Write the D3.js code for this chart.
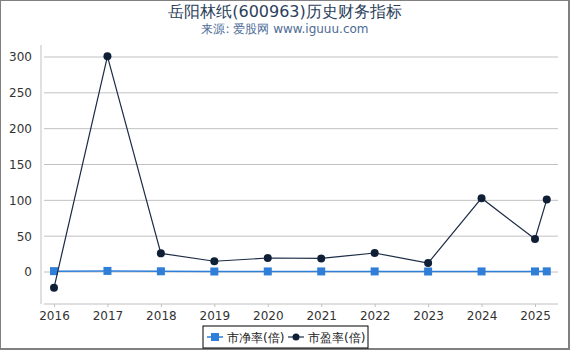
<!DOCTYPE html>
<html>
<head>
<meta charset="utf-8">
<script src="https://d3js.org/d3.v7.min.js"></script>
<style>
  body { margin: 0; background: #fff; }
  text { font-family: "DejaVu Sans", sans-serif; }
</style>
</head>
<body>
<script>
// point positions in years (last point is a partial year)
const dates = [2016, 2017, 2018, 2019, 2020, 2021, 2022, 2023, 2024, 2025, 2025.22];
const pb = [1.2, 1.5, 1.0, 0.7, 0.8, 0.8, 0.8, 0.7, 0.8, 0.8, 0.9];
const pe = [-22, 301, 26, 15, 19.5, 19, 26.5, 12.5, 103, 46, 101];
const yearTicks = [2016, 2017, 2018, 2019, 2020, 2021, 2022, 2023, 2024, 2025];
const yTicks = [0, 50, 100, 150, 200, 250, 300];
const seriesNames = ['市净率(倍)', '市盈率(倍)'];

const width = 570, height = 350;
const plot = { left: 44, right: 558, top: 45, bottom: 304 };

const svg = d3.select('body').append('svg')
  .attr('width', width)
  .attr('height', height);

svg.append('rect')
  .attr('x', 0).attr('y', 0)
  .attr('width', 569).attr('height', 349)
  .attr('fill', '#fff')
  .attr('stroke', '#808080')
  .attr('stroke-width', 2);

const x = d3.scaleLinear().domain([2016, 2025]).range([54, 535]);
const y = d3.scaleLinear().domain([0, 300]).range([272, 57]);

// title
svg.append('text')
  .attr('x', 285).attr('y', 17)
  .attr('text-anchor', 'middle')
  .attr('font-size', 16)
  .attr('fill', '#2b3f5c')
  .text('岳阳林纸(600963)历史财务指标');
svg.append('text')
  .attr('x', 285).attr('y', 33)
  .attr('text-anchor', 'middle')
  .attr('font-size', 12)
  .attr('fill', '#4d6b95')
  .text('来源: 爱股网 www.iguuu.com');

// grid
svg.append('g').selectAll('line')
  .data(yTicks)
  .enter().append('line')
    .attr('x1', plot.left).attr('x2', plot.right)
    .attr('y1', d => y(d)).attr('y2', d => y(d))
    .attr('stroke', '#c0c0c0')
    .attr('stroke-width', 1);

// y axis
const yAxis = svg.append('g')
  .attr('transform', `translate(${plot.left - 3},0)`)
  .call(d3.axisLeft(y).tickValues(yTicks).tickSize(0).tickPadding(9));
yAxis.select('.domain').remove();
yAxis.append('line')
  .attr('x1', 0).attr('x2', 0)
  .attr('y1', plot.top).attr('y2', plot.bottom)
  .attr('stroke', '#c0c0c0');
yAxis.selectAll('text')
  .attr('font-size', 12)
  .attr('fill', '#333')
  .attr('font-family', '"DejaVu Sans", sans-serif');

// x axis
const xAxis = svg.append('g')
  .attr('transform', `translate(0,${plot.bottom})`)
  .call(d3.axisBottom(x).tickValues(yearTicks).tickFormat(d3.format('d')).tickSize(3).tickPadding(4));
xAxis.select('.domain').remove();
xAxis.append('line')
  .attr('x1', plot.left).attr('x2', plot.right)
  .attr('y1', 0).attr('y2', 0)
  .attr('stroke', '#c0c0c0');
xAxis.selectAll('.tick line').attr('stroke', '#c0c0c0');
xAxis.selectAll('text')
  .attr('font-size', 12)
  .attr('fill', '#333')
  .attr('font-family', '"DejaVu Sans", sans-serif');

const line = d3.line().x(d => x(d[0])).y(d => y(d[1]));

// PB series
const pbData = dates.map((d, i) => [d, pb[i]]);
svg.append('path')
  .datum(pbData)
  .attr('d', line)
  .attr('fill', 'none')
  .attr('stroke', '#2f7ed8')
  .attr('stroke-width', 1.5);
svg.append('g').selectAll('rect')
  .data(pbData)
  .enter().append('rect')
    .attr('x', d => x(d[0]) - 4)
    .attr('y', d => y(d[1]) - 4)
    .attr('width', 8).attr('height', 8)
    .attr('fill', '#2f7ed8');

// PE series
const peData = dates.map((d, i) => [d, pe[i]]);
svg.append('path')
  .datum(peData)
  .attr('d', line)
  .attr('fill', 'none')
  .attr('stroke', '#1c2b45')
  .attr('stroke-width', 1.2);
svg.append('g').selectAll('circle')
  .data(peData)
  .enter().append('circle')
    .attr('cx', d => x(d[0]))
    .attr('cy', d => y(d[1]))
    .attr('r', 4)
    .attr('fill', '#0f1f36');

// legend
const lg = svg.append('g').attr('transform', 'translate(203,326)');
lg.append('rect')
  .attr('x', 0).attr('y', 0)
  .attr('width', 165).attr('height', 22)
  .attr('fill', '#fff')
  .attr('stroke', '#000')
  .attr('stroke-width', 1);
lg.append('line').attr('x1', 4).attr('x2', 20).attr('y1', 11).attr('y2', 11)
  .attr('stroke', '#2f7ed8').attr('stroke-width', 1.5);
lg.append('rect').attr('x', 8).attr('y', 7).attr('width', 8).attr('height', 8).attr('fill', '#2f7ed8');
lg.append('text').attr('x', 24).attr('y', 15.5).attr('font-size', 12).attr('fill', '#222').text(seriesNames[0]);
lg.append('line').attr('x1', 85).attr('x2', 101).attr('y1', 11).attr('y2', 11)
  .attr('stroke', '#1c2b45').attr('stroke-width', 1.2);
lg.append('circle').attr('cx', 93).attr('cy', 11).attr('r', 3.5).attr('fill', '#0f1f36');
lg.append('text').attr('x', 105).attr('y', 15.5).attr('font-size', 12).attr('fill', '#222').text(seriesNames[1]);
</script>
</body>
</html>
